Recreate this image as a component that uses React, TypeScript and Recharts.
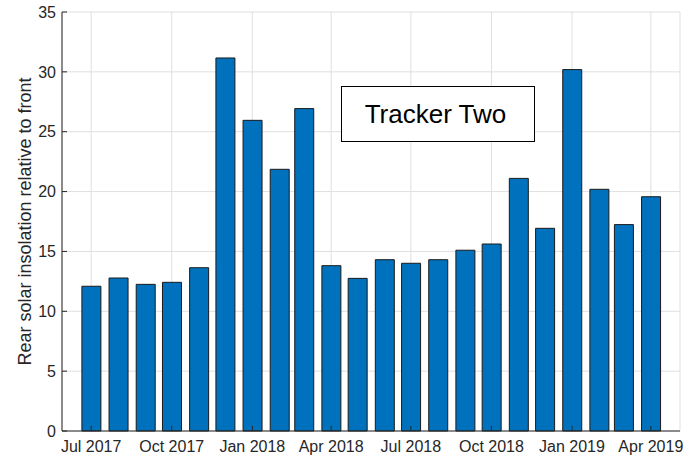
import React from "react";
import { BarChart, Bar, XAxis, YAxis, CartesianGrid } from "recharts";

// monthly rear/front insolation ratio, Tracker Two
const months = [
  "2017-07", "2017-08", "2017-09", "2017-10", "2017-11", "2017-12",
  "2018-01", "2018-02", "2018-03", "2018-04", "2018-05", "2018-06",
  "2018-07", "2018-08", "2018-09", "2018-10", "2018-11", "2018-12",
  "2019-01", "2019-02", "2019-03", "2019-04",
];
const ratios = [
  12.09, 12.78, 12.25, 12.42, 13.64, 31.16,
  25.95, 21.86, 26.93, 13.81, 12.75, 14.31,
  14.01, 14.31, 15.1, 15.62, 21.1, 16.93,
  30.19, 20.19, 17.24, 19.57,
];
const tickMonths = ["2017-07", "2017-10", "2018-01", "2018-04", "2018-07", "2018-10", "2019-01", "2019-04"];
const yTicks = [0, 5, 10, 15, 20, 25, 30, 35];
const monthNames = ["Jan", "Feb", "Mar", "Apr", "May", "Jun", "Jul", "Aug", "Sep", "Oct", "Nov", "Dec"];

const DAY = 86400000;
const dayOf = (m: string) => {
  const [y, mo] = m.split("-").map(Number);
  return Date.UTC(y, mo - 1, 1) / DAY;
};
const fmtDay = (d: number) => {
  const dt = new Date(d * DAY);
  return `${monthNames[dt.getUTCMonth()]} ${dt.getUTCFullYear()}`;
};

const data = months.map((m, i) => ({ day: dayOf(m), value: ratios[i] }));
const xTicks = tickMonths.map(dayOf);
const PAD_DAYS = 33.3;
const xDomain = [dayOf(months[0]) - PAD_DAYS, dayOf(months[months.length - 1]) + PAD_DAYS];

const AXIS = "#262626";
const FONT = "'Liberation Sans', Arial, Helvetica, sans-serif";
const TICK_LEN = 5;

const BottomTick = ({ x, y, payload }: any) => (
  <g>
    <line x1={x} x2={x} y1={y} y2={y - TICK_LEN} stroke={AXIS} />
    <text x={x} y={y + 10} dy="0.71em" textAnchor="middle" fill={AXIS} fontSize={16} fontFamily={FONT}>
      {fmtDay(payload.value)}
    </text>
  </g>
);
const TopTick = ({ x, y }: any) => <line x1={x} x2={x} y1={y} y2={y + TICK_LEN} stroke={AXIS} />;
const LeftTick = ({ x, y, payload }: any) => (
  <g>
    <line x1={x} x2={x + TICK_LEN} y1={y} y2={y} stroke={AXIS} />
    <text x={x - 6} y={y} dy="0.355em" textAnchor="end" fill={AXIS} fontSize={16} fontFamily={FONT}>
      {payload.value}
    </text>
  </g>
);
const RightTick = ({ x, y }: any) => <line x1={x} x2={x - TICK_LEN} y1={y} y2={y} stroke={AXIS} />;

export default function App() {
  return (
    <div style={{ position: "absolute", left: 0, top: 0, width: 699, height: 456, background: "#fff" }}>
      <BarChart width={699} height={456} data={data} margin={{ top: 12, right: 19, bottom: 0, left: 0 }}>
        <CartesianGrid stroke="#dfdfdf" />
        <Bar dataKey="value" fill="#0072BD" stroke="#1a1a1a" strokeWidth={1} barSize={19} isAnimationActive={false} />
        <XAxis
          dataKey="day"
          type="number"
          domain={xDomain}
          allowDataOverflow
          ticks={xTicks}
          interval={0}
          height={25}
          tickSize={0}
          tickMargin={0}
          tickLine={false}
          axisLine={{ stroke: AXIS }}
          tick={<BottomTick />}
        />
        <XAxis
          xAxisId="top"
          orientation="top"
          dataKey="day"
          type="number"
          domain={xDomain}
          allowDataOverflow
          ticks={xTicks}
          interval={0}
          height={0}
          tickSize={0}
          tickMargin={0}
          tickLine={false}
          axisLine={{ stroke: AXIS }}
          tick={<TopTick />}
        />
        <YAxis
          type="number"
          domain={[0, 35]}
          ticks={yTicks}
          interval={0}
          width={62}
          tickSize={0}
          tickMargin={0}
          tickLine={false}
          axisLine={{ stroke: AXIS }}
          tick={<LeftTick />}
          label={{
            value: "Rear solar insolation relative to front",
            angle: -90,
            position: "insideLeft",
            offset: 25,
            fill: AXIS,
            fontSize: 18,
            fontFamily: FONT,
            style: { textAnchor: "middle" },
          }}
        />
        <YAxis
          yAxisId="right"
          orientation="right"
          type="number"
          domain={[0, 35]}
          ticks={yTicks}
          interval={0}
          width={0}
          tickSize={0}
          tickMargin={0}
          tickLine={false}
          axisLine={{ stroke: AXIS }}
          tick={<RightTick />}
        />
      </BarChart>
      <div
        style={{
          position: "absolute",
          left: 341,
          top: 86,
          width: 194,
          height: 56,
          boxSizing: "border-box",
          border: "1px solid #000",
          background: "#fff",
          display: "flex",
          alignItems: "center",
          justifyContent: "center",
          fontFamily: FONT,
          fontSize: 26,
          color: "#000",
          paddingRight: 5,
        }}
      >
        Tracker Two
      </div>
    </div>
  );
}
